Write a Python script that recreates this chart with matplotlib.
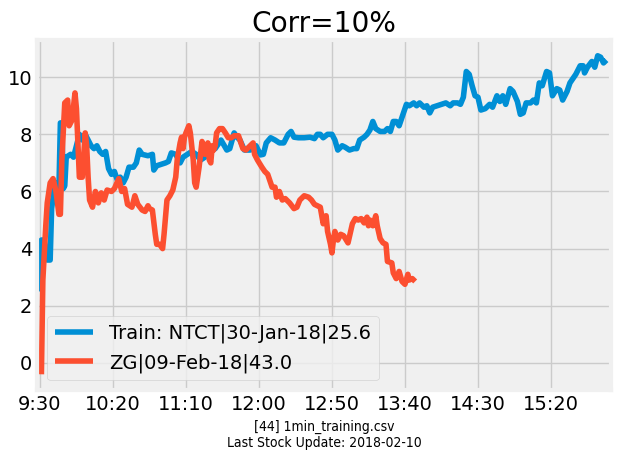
import matplotlib
matplotlib.use("Agg")
import matplotlib.pyplot as plt
from matplotlib.ticker import MultipleLocator, FuncFormatter

# minutes after 9:30 and value for each series
train_min = [0, 1, 3, 5, 7, 8, 10, 12, 13, 14, 15, 16, 17, 18, 21, 23, 25, 27, 29, 31,
             33, 35, 37, 39, 41, 43, 45, 47, 49, 51, 53, 55, 57, 59, 61, 64, 66, 68, 70, 74,
             77, 78, 80, 83, 86, 88, 90, 93, 96, 98, 101, 104, 107, 110, 113, 117, 120, 124, 128, 130,
             133, 135, 137, 140, 144, 146, 148, 151, 153, 155, 158, 161, 164, 167, 170, 172, 174, 177, 181, 185,
             188, 190, 192, 194, 197, 200, 202, 204, 207, 209, 212, 215, 217, 219, 222, 224, 226, 228, 230, 233,
             236, 238, 240, 242, 244, 246, 248, 251, 253, 256, 258, 260, 263, 265, 267, 269, 272, 275, 278, 281,
             283, 286, 288, 290, 292, 294, 296, 298, 300, 302, 305, 308, 310, 313, 315, 317, 319, 322, 324, 327,
             329, 331, 333, 336, 338, 340, 342, 344, 347, 349, 351, 354, 356, 358, 361, 363, 365, 367, 370, 372,
             373, 375, 378, 380, 382, 384, 386, 388]
train_val = [2.5, 4.3, 4.3, 3.6, 3.6, 5.4, 6.2, 6.3, 6.1, 8.4, 8.4, 6.1, 6.2, 7.2, 7.3, 7.2, 7.6, 8.0, 7.8, 8.0,
             7.8, 7.6, 7.5, 7.6, 7.4, 7.3, 7.4, 6.8, 6.6, 6.7, 6.4, 6.5, 6.3, 6.5, 6.85, 6.85, 7.0, 7.45, 7.3, 7.25,
             7.3, 6.75, 6.9, 6.95, 7.0, 7.05, 7.35, 7.3, 7.0, 7.2, 7.3, 7.4, 7.3, 7.1, 7.2, 7.45, 7.5, 7.8, 7.45, 7.5,
             8.05, 7.9, 7.8, 7.45, 7.45, 7.5, 7.6, 7.28, 7.3, 7.7, 7.88, 7.8, 7.7, 7.7, 8.0, 8.1, 7.9, 7.88, 7.88, 7.9,
             7.85, 8.0, 8.0, 7.88, 8.0, 8.0, 7.8, 7.45, 7.6, 7.55, 7.45, 7.5, 7.5, 7.8, 7.9, 8.0, 8.15, 8.45, 8.2, 8.1,
             8.1, 8.2, 8.1, 8.45, 8.45, 8.3, 8.6, 9.05, 9.0, 9.1, 9.0, 9.1, 8.95, 9.0, 8.75, 8.95, 9.0, 9.05, 9.1, 9.0,
             9.1, 9.1, 9.05, 9.3, 10.2, 10.1, 9.7, 9.35, 9.3, 8.85, 8.9, 9.05, 8.95, 9.35, 9.15, 9.35, 9.05, 9.6, 9.5, 9.15,
             8.7, 8.75, 9.1, 9.1, 9.2, 9.1, 9.8, 9.7, 10.2, 10.15, 9.35, 9.6, 9.55, 9.2, 9.5, 9.8, 9.95, 10.1, 10.4, 10.4,
             10.15, 10.35, 10.55, 10.35, 10.75, 10.7, 10.5, 10.6]

test_min = [1, 2, 4, 5, 7, 9, 11, 13, 14, 15, 17, 19, 20, 22, 24, 25, 26, 27, 29, 30,
            31, 32, 33, 34, 36, 38, 40, 42, 44, 46, 49, 51, 54, 56, 58, 60, 63, 65, 67, 70,
            72, 74, 75, 77, 79, 80, 82, 84, 85, 86, 87, 89, 91, 93, 94, 96, 97, 98, 99, 100,
            102, 103, 105, 106, 107, 109, 110, 111, 113, 115, 116, 117, 118, 119, 120, 121, 123, 125, 127, 129,
            131, 133, 136, 137, 139, 141, 144, 146, 147, 149, 152, 154, 156, 159, 161, 162, 164, 166, 168, 171,
            174, 176, 178, 181, 184, 186, 188, 190, 192, 194, 196, 197, 199, 200, 201, 202, 204, 206, 208, 211,
            214, 216, 218, 220, 222, 224, 225, 226, 228, 230, 231, 233, 235, 237, 238, 241, 242, 244, 246, 248,
            250, 252, 253, 255, 257]
test_val = [-0.4, 2.9, 4.8, 5.6, 6.3, 6.45, 6.0, 5.2, 5.2, 7.1, 9.1, 9.2, 8.3, 8.5, 9.45, 8.9, 7.7, 6.5, 6.5, 7.3,
            8.05, 7.6, 6.5, 5.7, 5.45, 6.0, 5.6, 5.95, 5.7, 6.05, 6.0, 6.1, 6.45, 6.0, 6.1, 5.55, 5.45, 5.85, 5.55, 5.35,
            5.3, 5.5, 5.4, 5.35, 4.5, 4.15, 4.15, 4.0, 4.5, 5.1, 5.7, 5.85, 6.05, 6.5, 7.1, 7.7, 7.9, 7.5, 7.9, 8.05,
            8.3, 8.05, 7.1, 6.3, 6.15, 6.85, 7.3, 7.75, 7.3, 7.7, 7.1, 7.0, 7.6, 7.45, 7.6, 8.05, 8.2, 8.2, 8.05, 7.88,
            7.88, 7.95, 7.95, 7.8, 7.5, 7.45, 7.6, 7.7, 7.3, 7.1, 6.85, 6.7, 6.6, 6.15, 6.15, 5.8, 6.0, 5.7, 5.75, 5.6,
            5.4, 5.45, 5.7, 5.85, 5.8, 5.7, 5.55, 5.5, 5.45, 4.87, 5.15, 4.6, 4.15, 3.85, 4.3, 4.6, 4.3, 4.5, 4.45, 4.2,
            4.87, 5.05, 5.0, 5.05, 4.9, 5.1, 4.8, 5.0, 4.8, 5.15, 4.8, 4.35, 4.2, 4.15, 3.55, 3.5, 3.15, 2.95, 3.2, 2.85,
            2.75, 3.1, 2.9, 2.95, 2.85]

train_label = "Train: NTCT|30-Jan-18|25.6"
test_label = "ZG|09-Feb-18|43.0"
title = "Corr=10%"
xlabel = "[44] 1min_training.csv\nLast Stock Update: 2018-02-10"


def minute_fmt(m, pos):
    t = 9 * 60 + 30 + int(round(m))
    return "%d:%02d" % (t // 60, t % 60)


plt.style.use("fivethirtyeight")
fig = plt.figure(figsize=(6.17, 4.58), dpi=100, facecolor="white")
ax = fig.add_axes([0.060, 0.148, 0.930, 0.765])

ax.plot(train_min, train_val, label=train_label)
ax.plot(test_min, test_val, label=test_label)

ax.set_xlim(-2, 391)
ax.xaxis.set_major_locator(MultipleLocator(50))
ax.xaxis.set_major_formatter(FuncFormatter(minute_fmt))
ax.set_yticks([0, 2, 4, 6, 8, 10])

ax.set_title(title)
ax.set_xlabel(xlabel, fontsize=10, fontstretch="condensed")
ax.legend(loc="lower left")

fig.savefig("out.png", dpi=100, facecolor="white")
